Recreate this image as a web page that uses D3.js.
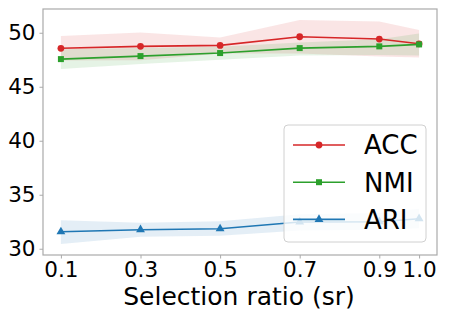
<!DOCTYPE html>
<html>
<head>
<meta charset="utf-8">
<script src="https://cdn.jsdelivr.net/npm/d3@7"></script>
<style>
  body { margin: 0; background: #fff; }
  svg { display: block; font-family: "DejaVu Sans", sans-serif; }
</style>
</head>
<body>
<svg id="chart" width="449" height="320"></svg>
<script>
// selection ratio values
var ratios = [0.1, 0.3, 0.5, 0.7, 0.9, 1.0];
var xTickLabels = ["0.1", "0.3", "0.5", "0.7", "0.9", "1.0"];
var yTicks = [30, 35, 40, 45, 50];

// series means and band limits
var accMean = [48.56, 48.74, 48.83, 49.63, 49.42, 48.98];
var accHigh = [49.69, 50.03, 49.57, 51.18, 51.05, 50.25];
var accLow  = [47.43, 47.45, 48.09, 48.08, 47.79, 47.71];

var nmiMean = [47.56, 47.84, 48.12, 48.58, 48.74, 48.92];
var nmiHigh = [48.48, 48.60, 48.70, 49.10, 49.40, 49.94];
var nmiLow  = [46.64, 47.10, 47.50, 47.90, 47.95, 47.90];

var ariMean = [31.57, 31.76, 31.85, 32.47, 32.50, 32.78];
var ariHigh = [32.63, 32.40, 32.55, 33.20, 33.30, 33.70];
var ariLow  = [30.43, 31.10, 31.20, 31.70, 31.75, 31.90];

var series = [
  {name: "ACC", color: "#d62728", marker: "circle", mean: accMean, hi: accHigh, lo: accLow},
  {name: "NMI", color: "#2ca02c", marker: "square", mean: nmiMean, hi: nmiHigh, lo: nmiLow},
  {name: "ARI", color: "#1f77b4", marker: "triangle", mean: ariMean, hi: ariHigh, lo: ariLow}
];

var svg = d3.select("#chart");
var margin = {top: 9, right: 12, bottom: 65, left: 43},
    width = 449 - margin.left - margin.right,
    height = 320 - margin.top - margin.bottom,
    g = svg.append("g").attr("transform", "translate(" + margin.left + "," + margin.top + ")");

var x = d3.scaleLinear()
  .domain([0.055, 1.045])
  .range([0, width]);

var y = d3.scaleLinear()
  .domain([29.42, 52.2])
  .range([height, 0]);

function markerPath(type) {
  if (type == "circle") return d3.symbol().type(d3.symbolCircle).size(36)();
  if (type == "square") return d3.symbol().type(d3.symbolSquare).size(36)();
  return d3.symbol().type(d3.symbolTriangle).size(34)();
}

// bands
series.forEach(function(s) {
  var area = d3.area()
    .x(function(d, i) { return x(ratios[i]); })
    .y0(function(d, i) { return y(s.lo[i]); })
    .y1(function(d, i) { return y(s.hi[i]); });
  g.append("path")
    .datum(s.mean)
    .attr("d", area)
    .attr("fill", s.color)
    .attr("fill-opacity", 0.12);
});

// lines + markers
series.forEach(function(s) {
  var line = d3.line()
    .x(function(d, i) { return x(ratios[i]); })
    .y(function(d) { return y(d); });
  g.append("path")
    .datum(s.mean)
    .attr("d", line)
    .attr("fill", "none")
    .attr("stroke", s.color)
    .attr("stroke-width", 1.6);
  g.selectAll(".m-" + s.name)
    .data(s.mean)
    .enter().append("path")
      .attr("class", "m-" + s.name)
      .attr("transform", function(d, i) { return "translate(" + x(ratios[i]) + "," + y(d) + ")"; })
      .attr("d", markerPath(s.marker))
      .attr("fill", s.color);
});

// axes
var xAxis = g.append("g")
  .attr("transform", "translate(0," + height + ")")
  .call(d3.axisBottom(x).tickValues(ratios).tickFormat(function(d, i) { return xTickLabels[i]; }).tickSize(3.5).tickPadding(3));
var yAxis = g.append("g")
  .call(d3.axisLeft(y).tickValues(yTicks).tickSize(3.5).tickPadding(4));

[xAxis, yAxis].forEach(function(a) {
  a.select(".domain").remove();
  a.selectAll("line").attr("stroke", "#aaa").attr("stroke-width", 1);
  a.selectAll("text").attr("fill", "#000").style("font-size", "21.5px").style("font-family", "DejaVu Sans");
});

// frame
g.append("rect")
  .attr("width", width)
  .attr("height", height)
  .attr("fill", "none")
  .attr("stroke", "#aaa")
  .attr("stroke-width", 1.2);

g.append("text")
  .attr("x", width / 2 - 1)
  .attr("y", height + 50)
  .attr("text-anchor", "middle")
  .style("font-size", "25px")
  .text("Selection ratio (sr)");

// legend
var legend = g.append("g")
  .attr("transform", "translate(" + (284 - margin.left) + "," + (125 - margin.top) + ")");
legend.append("rect")
  .attr("width", 142)
  .attr("height", 117)
  .attr("rx", 4)
  .attr("fill", "#fff")
  .attr("fill-opacity", 0.8)
  .attr("stroke", "#d0d0d0")
  .attr("stroke-width", 1);

var item = legend.selectAll(".item")
  .data(series)
  .enter().append("g")
    .attr("transform", function(d, i) { return "translate(0," + (20 + i * 37.2) + ")"; });
item.append("line")
  .attr("x1", 9).attr("x2", 61)
  .attr("stroke", function(d) { return d.color; })
  .attr("stroke-width", 1.6);
item.append("path")
  .attr("transform", "translate(35,0)")
  .attr("d", function(d) { return markerPath(d.marker); })
  .attr("fill", function(d) { return d.color; });
item.append("text")
  .attr("x", 80)
  .attr("dy", "0.36em")
  .style("font-size", "26px")
  .text(function(d) { return d.name; });
</script>
</body>
</html>
